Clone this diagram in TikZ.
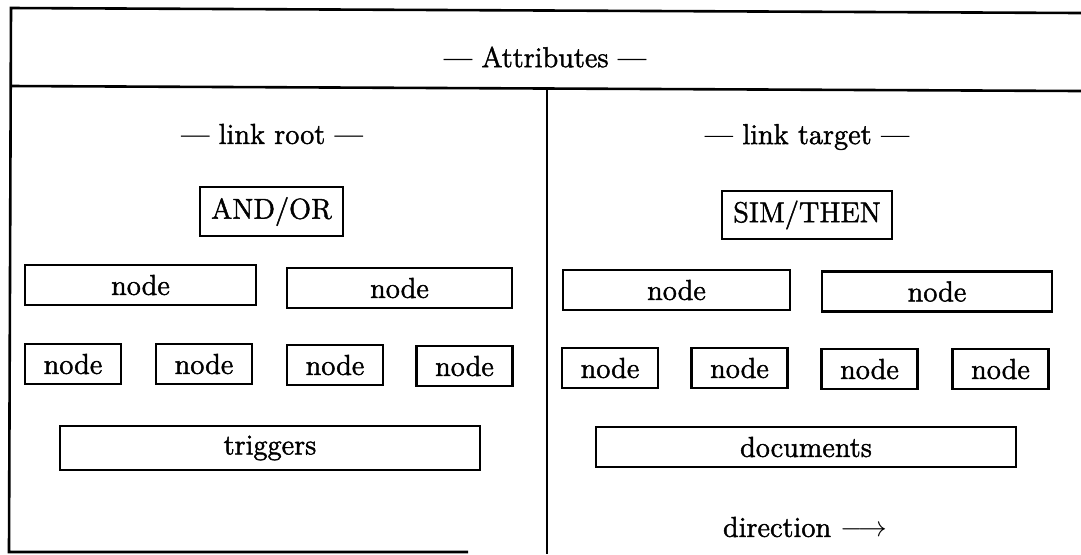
\documentclass[tikz,border=0pt]{standalone}
\usepackage{fontspec}
\newfontfamily\heavy{lmroman12-regular}[Extension=.otf, Ligatures=TeX, FakeBold=1.6]
\begin{document}
\begin{tikzpicture}[x=0.5pt,y=-0.5pt,
  frame/.style={line width=1.3pt},
  label/.style={font=\heavy\fontsize{14.4}{17}\selectfont, inner sep=0pt},
  box/.style={draw, line width=1.2pt, inner sep=0pt, font=\heavy\fontsize{14.4}{17}\selectfont},
  wide/.style={box, minimum width=114pt, minimum height=20pt},
  small/.style={box, minimum width=48pt, minimum height=20pt},
  long/.style={box, minimum width=210pt, minimum height=21pt}]
\useasboundingbox (0,0) rectangle (1081,554);

% outer frame, header rule and column divider
\coordinate (tl) at (11,8);
\coordinate (tr) at (1081,13);
\coordinate (bl) at (9,552);
\coordinate (br) at (468,552);
\coordinate (hl) at (11,86);
\coordinate (hr) at (1081,91);
\coordinate (vt) at (547,88);
\coordinate (vb) at (547,554);
\draw[frame] (tr) -- (tl) -- (bl) -- (br);
\draw[frame] (hl) -- (hr);
\draw[frame] (vt) -- (vb);

% headings
\node[label] (attr) at (545,57) {--- Attributes ---};
\node[label] (root) at (272,134) {--- link root ---};
\node[label] (target) at (807,137) {--- link target ---};

% link root column
\node[box, minimum width=71.5pt, minimum height=24.5pt] (andor) at (271.5,211.5) {AND/OR};
\node[wide, minimum width=115.5pt] (ra) at (140.5,285) {node};
\node[wide, minimum width=112.5pt] (rb) at (399.5,288) {node};
\node[small] (r1) at (73,364) {node};
\node[small] (r2) at (204,364) {node};
\node[small] (r3) at (335,365) {node};
\node[small] (r4) at (464.5,366) {node};
\node[long, minimum height=22pt] (trig) at (270,448) {triggers};

% link target column
\node[box, minimum width=85pt, minimum height=24pt] (simthen) at (807,215) {SIM/THEN};
\node[wide, minimum width=113.5pt] (ta) at (676.5,290) {node};
\node[wide, minimum width=115pt] (tb) at (937,291.5) {node};
\node[small] (t1) at (610,368) {node};
\node[small] (t2) at (739.5,368) {node};
\node[small] (t3) at (869.5,369) {node};
\node[small] (t4) at (1000.5,369) {node};
\node[long, minimum height=20pt] (docs) at (806,447) {documents};
\node[label] (dir) at (805,527) {direction $\longrightarrow$};
\end{tikzpicture}
\end{document}
